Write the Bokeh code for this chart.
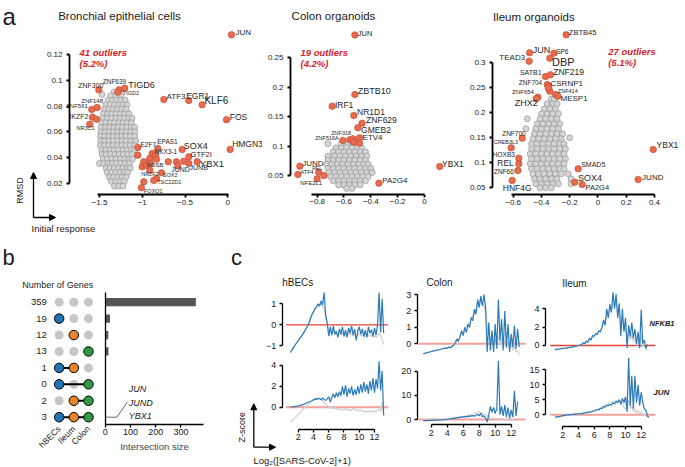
import numpy as np
from bokeh.plotting import figure
from bokeh.layouts import row, column
from bokeh.models import Range1d, FixedTicker, Label, Arrow, NormalHead, ColumnDataSource
from bokeh.core.properties import value
from bokeh.embed import file_html
from bokeh.resources import INLINE

FONT = "Liberation Sans"
nan = float("nan")

# ---------------- Panel a data (initial response, RMSD) ----------------
HBEC_OUT = [
    ("JUN", 0.044, 0.1353), ("ZNF300", -1.508, 0.0926), ("ZNF639", -1.270, 0.0926),
    ("TIGD6", -1.204, 0.0939), ("TIGD2", -1.286, 0.0908), ("ZNF148", -1.527, 0.0789),
    ("ZNF561", -1.590, 0.0774), ("IKZF2", -1.582, 0.0714), ("", -1.535, 0.0698),
    ("NR3C1", -1.613, 0.0660), ("ATF3", -0.748, 0.0851), ("EGR1", -0.456, 0.0843),
    ("KLF6", -0.300, 0.0810), ("FOS", -0.015, 0.0694), ("HMGN3", 0.028, 0.0464),
    ("E2F7", -1.052, 0.0479), ("EPAS1", -0.818, 0.0471), ("SOX4", -0.533, 0.0464),
    ("NKX3-1", -0.884, 0.0433), ("GTF2I", -0.455, 0.0407), ("YBX1", -0.357, 0.0368),
    ("JUNB", -0.455, 0.0355), ("JUND", -0.600, 0.0368), ("FOSB", -0.982, 0.0347),
    ("NR2F2", -0.912, 0.0303), ("SOX2", -0.775, 0.0283), ("TSC22D1", -0.833, 0.0239),
    ("FOXO1", -1.010, 0.0167),
    ("", -1.052, 0.0419), ("", -0.845, 0.0419), ("", -0.912, 0.0394), ("", -0.833, 0.0388),
    ("", -0.514, 0.0373), ("", -0.696, 0.0368), ("", -0.584, 0.0337), ("", -0.982, 0.0368),
    ("", -1.001, 0.0329), ("", -0.950, 0.0342), ("", -0.904, 0.0355), ("", -0.865, 0.0223),
    ("", -0.982, 0.0213),
]
HBEC_GREY_ROWS = [
    (0.0910, [-1.33, -1.27]),
    (0.0890, [-1.47]),
    (0.0880, [-1.37, -1.31, -1.25]),
    (0.0845, [-1.40, -1.35, -1.30, -1.25, -1.20]),
    (0.0810, [-1.425, -1.375, -1.325, -1.275, -1.225, -1.18]),
    (0.0775, [-1.44, -1.39, -1.34, -1.29, -1.24, -1.19]),
    (0.0740, [-1.455, -1.405, -1.355, -1.305, -1.255, -1.205, -1.155]),
    (0.0705, [-1.46, -1.41, -1.36, -1.31, -1.26, -1.21, -1.16, -1.12]),
    (0.0670, [-1.475, -1.425, -1.375, -1.325, -1.275, -1.225, -1.175, -1.125]),
    (0.0635, [-1.48, -1.43, -1.38, -1.33, -1.28, -1.23, -1.18, -1.13, -1.09]),
    (0.0600, [-1.485, -1.435, -1.385, -1.335, -1.285, -1.235, -1.185, -1.135, -1.085]),
    (0.0565, [-1.49, -1.44, -1.39, -1.34, -1.29, -1.24, -1.19, -1.14, -1.09]),
    (0.0530, [-1.485, -1.435, -1.385, -1.335, -1.285, -1.235, -1.185, -1.135, -1.075]),
    (0.0495, [-1.49, -1.44, -1.39, -1.34, -1.29, -1.24, -1.19, -1.14, -1.09]),
    (0.0460, [-1.475, -1.425, -1.375, -1.325, -1.275, -1.225, -1.175, -1.125, -1.09]),
    (0.0425, [-1.47, -1.42, -1.37, -1.32, -1.27, -1.22, -1.17, -1.12]),
    (0.0390, [-1.455, -1.405, -1.355, -1.305, -1.255, -1.205, -1.155, -1.115]),
    (0.0355, [-1.50, -1.45, -1.40, -1.35, -1.30, -1.25, -1.20, -1.15]),
    (0.0320, [-1.425, -1.375, -1.325, -1.275, -1.225, -1.175, -1.14]),
    (0.0285, [-1.41, -1.36, -1.31, -1.26, -1.21, -1.17]),
    (0.0250, [-1.385, -1.335, -1.285, -1.235, -1.19]),
    (0.0215, [-1.36, -1.31, -1.26, -1.21]),
    (0.0180, [-1.325, -1.275, -1.225]),
]

COLON_OUT = [
    ("JUN", -0.519, 0.289), ("ZBTB10", -0.519, 0.1877), ("IRF1", -0.688, 0.1678),
    ("NR1D1", -0.527, 0.152), ("ZNF629", -0.465, 0.139), ("GMEB2", -0.497, 0.131),
    ("ETV4", -0.484, 0.114), ("ZNF318", -0.557, 0.1106), ("ZNF516A", -0.609, 0.1095),
    ("", -0.534, 0.1123), ("", -0.527, 0.1066), ("", -0.484, 0.105),
    ("JUND", -0.929, 0.0659), ("ATF4", -0.944, 0.0517), ("REL", -0.788, 0.0557),
    ("NFE2L1", -0.800, 0.0443), ("", -0.750, 0.050), ("PA2G4", -0.340, 0.037),
    ("YBX1", 0.114, 0.0653),
]
COLON_GREY_ROWS = [
    (0.104, [-0.72, -0.62, -0.57, -0.53]),
    (0.097, [-0.66, -0.62, -0.58, -0.54, -0.50, -0.47]),
    (0.090, [-0.68, -0.64, -0.60, -0.56, -0.52, -0.48, -0.44]),
    (0.083, [-0.72, -0.67, -0.63, -0.59, -0.55, -0.51, -0.47, -0.43]),
    (0.076, [-0.72, -0.68, -0.64, -0.60, -0.56, -0.52, -0.48, -0.44]),
    (0.069, [-0.73, -0.69, -0.65, -0.61, -0.57, -0.53, -0.49, -0.45, -0.42]),
    (0.062, [-0.72, -0.68, -0.64, -0.60, -0.56, -0.52, -0.48, -0.44, -0.40]),
    (0.055, [-0.71, -0.67, -0.63, -0.59, -0.55, -0.51, -0.47, -0.43, -0.39]),
    (0.048, [-0.70, -0.66, -0.62, -0.58, -0.54, -0.50, -0.46, -0.42]),
    (0.041, [-0.68, -0.64, -0.60, -0.56, -0.52, -0.48, -0.44]),
    (0.034, [-0.64, -0.60, -0.56, -0.52, -0.48]),
    (0.028, [-0.58, -0.54]),
]

ILEUM_OUT = [
    ("ZBTB45", -0.225, 0.356), ("JUN", -0.484, 0.320), ("SP6", -0.312, 0.3193),
    ("TEAD3", -0.487, 0.3033), ("DBP", -0.341, 0.3093), ("SATB1", -0.371, 0.2727),
    ("ZNF219", -0.336, 0.276), ("ZNF704", -0.359, 0.2567), ("CSRNP1", -0.348, 0.2527),
    ("", -0.348, 0.248), ("", -0.341, 0.2433), ("", -0.352, 0.250),
    ("ZNF654", -0.425, 0.2313), ("ZHX2", -0.437, 0.228), ("ZNF414", -0.300, 0.2367),
    ("MESP1", -0.284, 0.2333), ("ZNF700", -0.536, 0.1493), ("CREB3L3", -0.614, 0.130),
    ("HOXB3", -0.560, 0.1093), ("REL", -0.560, 0.098), ("ZNF66", -0.567, 0.0847),
    ("HNF4G", -0.607, 0.0647), ("SMAD5", -0.140, 0.088), ("SOX4", -0.164, 0.0613),
    ("PA2G4", -0.112, 0.0567), ("YBX1", 0.391, 0.1267), ("JUND", 0.284, 0.0667),
]
ILEUM_GREY_ROWS = [
    (0.228, [-0.33, -0.31]),
    (0.218, [-0.36, -0.32, -0.29]),
    (0.208, [-0.38, -0.34, -0.30]),
    (0.198, [-0.40, -0.36, -0.32, -0.28]),
    (0.188, [-0.50, -0.41, -0.37, -0.33, -0.29]),
    (0.178, [-0.43, -0.39, -0.35, -0.31, -0.27]),
    (0.168, [-0.51, -0.44, -0.40, -0.36, -0.32, -0.28]),
    (0.158, [-0.45, -0.41, -0.37, -0.33, -0.29, -0.25]),
    (0.150, [-0.20]),
    (0.148, [-0.46, -0.42, -0.38, -0.34, -0.30, -0.26]),
    (0.138, [-0.47, -0.43, -0.39, -0.35, -0.31, -0.27, -0.24]),
    (0.128, [-0.47, -0.43, -0.39, -0.35, -0.31, -0.27, -0.23]),
    (0.118, [-0.48, -0.44, -0.40, -0.36, -0.32, -0.28, -0.24]),
    (0.108, [-0.47, -0.43, -0.39, -0.35, -0.31, -0.27, -0.23]),
    (0.098, [-0.48, -0.44, -0.40, -0.36, -0.32, -0.28, -0.24]),
    (0.088, [-0.47, -0.43, -0.39, -0.35, -0.31, -0.27, -0.24]),
    (0.078, [-0.46, -0.42, -0.38, -0.34, -0.30, -0.26, -0.21]),
    (0.068, [-0.45, -0.41, -0.37, -0.33, -0.29, -0.19]),
    (0.058, [-0.44, -0.40, -0.36, -0.32, -0.28, -0.19]),
    (0.050, [-0.41, -0.37, -0.33]),
]
OUTLIER_PCT = ["5.2%", "4.2%", "5.1%"]
PANEL_A_TITLES = ["Bronchial epithelial cells", "Colon organoids", "Ileum organoids"]

# ---------------- Panel b data ----------------
SETS = ["hBECs", "Ileum", "Colon"]
MEMBERSHIP = [[0, 0, 0], [1, 0, 0], [0, 1, 0], [0, 0, 1],
              [1, 1, 0], [1, 0, 1], [0, 1, 1], [1, 1, 1]]
COUNTS = [359, 19, 12, 13, 1, 0, 2, 3]
SHARED_GENES = ["JUN", "JUND", "YBX1"]

# ---------------- Panel c data ----------------
LOGC = [1.0, 1.2, 1.4, 1.6, 1.8, 2.0, 2.2, 2.4, 2.6, 2.8,
        3.0, 3.2, 3.4, 3.6, 3.8, 4.0, 4.2, 4.4, 4.6, 4.8,
        5.0, 5.2, 5.4, 5.6, 5.8, 6.0, 6.2, 6.4, 6.6, 6.8,
        7.0, 7.2, 7.4, 7.6, 7.8, 8.0, 8.2, 8.4, 8.6, 8.8,
        9.0, 9.2, 9.4, 9.6, 9.8, 10.0, 10.2, 10.4, 10.6, 10.8,
        11.0, 11.2, 11.4, 11.6, 11.8, 12.0, 12.2, 12.4, 12.6, 12.8,
        13.0, 13.2]
HBEC_NFKB1 = [-1.33, -1.20, -1.08, -0.97, -0.86, -0.76, -0.65, -0.55, -0.45, -0.33,
              -0.20, -0.08, 0.08, 0.30, 0.50, 0.62, 0.78, 0.85, 1.00, 0.90,
              1.15, 0.95, 1.55, 0.45, 0.10, -0.55, -0.10, -0.50, -0.05, -0.45,
              -0.30, -0.60, -0.20, -0.45, -0.10, -0.55, -0.25, -0.60, -0.15, -0.40,
              -0.05, -0.50, -0.20, -0.75, -0.30, -0.10, -0.45, -0.20, -0.55, -0.25,
              -0.60, -0.10, -0.40, -0.25, -0.55, -0.15, -0.50, 0.00, 1.55, -0.35,
              1.25, -0.40]
HBEC_NFKB1_CTRL = [-1.33, -1.20, -1.08, -0.97, -0.86, -0.76, -0.65, -0.55, -0.45, -0.33,
                   -0.22, -0.10, 0.05, 0.25, 0.45, 0.60, 0.72, 0.85, 0.90, 0.95,
                   1.00, 0.90, 0.80, 0.40, 0.00, -0.30, -0.35, -0.40, -0.30, -0.45,
                   -0.40, -0.50, -0.35, -0.50, -0.40, -0.55, -0.45, -0.50, -0.35, -0.50,
                   -0.40, -0.55, -0.45, -0.60, -0.50, -0.40, -0.55, -0.45, -0.60, -0.50,
                   -0.55, -0.45, -0.55, -0.50, -0.60, -0.50, -0.60, -0.55, -0.40, -0.50,
                   -0.70, -0.95]
HBEC_JUN = [0.00, 0.02, 0.05, 0.08, 0.10, 0.12, 0.15, 0.20, 0.25, 0.30,
            0.38, 0.45, 0.50, 0.55, 0.62, 0.70, 0.75, 0.80, 0.78, 0.85,
            0.70, 0.90, 0.75, 0.65, 0.80, 1.00, 0.50, 0.90, 1.30, 0.90,
            1.40, 1.00, 1.50, 1.10, 2.00, 1.20, 2.10, 1.00, 1.80, 1.30,
            2.00, 1.10, 1.70, 1.20, 2.00, 1.30, 2.20, 1.40, 2.40, 1.50,
            2.20, 1.30, 2.50, 1.60, 2.80, 1.40, 2.70, 1.80, 4.40, 1.60,
            3.50, -0.80]
HBEC_JUN_CTRL = [-1.45, -1.30, -1.15, -1.00, -0.85, -0.70, -0.55, -0.40, -0.25, -0.10,
                 0.05, 0.20, 0.35, 0.50, 0.60, 0.72, 0.80, 0.88, 0.90, 0.85,
                 0.75, 0.60, 0.45, 0.30, 0.15, 0.00, -0.10, 0.05, -0.15, -0.05,
                 -0.20, -0.10, -0.25, -0.15, -0.30, -0.20, -0.10, -0.30, -0.20, -0.35,
                 -0.25, -0.10, -0.30, -0.20, -0.40, -0.30, -0.20, -0.45, -0.30, -0.50,
                 -0.35, -0.45, -0.30, -0.50, -0.40, -0.30, -0.50, -0.30, -0.20, -0.40,
                 0.50, -0.80]
COLON_NFKB1 = [-0.60, -0.58, -0.55, -0.52, -0.50, -0.47, -0.45, -0.42, -0.40, -0.38,
               -0.35, -0.33, -0.30, -0.28, -0.25, -0.28, -0.20, -0.25, -0.15, -0.10,
               0.05, 0.30, 0.15, 0.45, 0.80, 0.50, 1.00, 0.70, 1.20, 1.00,
               1.60, 1.40, 2.10, 1.80, 2.70, 2.20, 2.90, 2.30, 3.00, 2.20,
               -0.50, 1.30, -0.40, 0.80, -0.50, 1.20, -0.30, 2.70, 0.20, 1.50,
               -0.40, 2.00, -0.20, 1.20, -0.50, 0.60, -0.20, 1.10, -0.30, 0.90,
               -0.20, nan]
COLON_NFKB1_CTRL = [-0.60, -0.58, -0.56, -0.53, -0.50, -0.48, -0.46, -0.43, -0.41, -0.39,
                    -0.36, -0.34, -0.31, -0.29, -0.27, -0.25, -0.22, -0.20, -0.15, -0.10,
                    0.00, 0.15, 0.25, 0.40, 0.60, 0.70, 0.90, 1.00, 1.20, 1.30,
                    1.50, 1.70, 1.90, 2.10, 2.40, 2.50, 2.70, 2.50, 2.30, 1.90,
                    1.00, 0.60, 0.20, 0.40, 0.00, 0.30, -0.10, 0.50, 0.00, 0.30,
                    -0.20, 0.20, -0.30, 0.10, -0.30, 0.00, -0.40, -0.10, -0.50, -0.40,
                    -0.70, nan]
COLON_JUN = [-0.5, -0.5, -0.45, -0.45, -0.4, -0.4, -0.35, -0.3, -0.3, -0.25,
             -0.2, -0.2, -0.15, -0.1, 0.0, 0.1, 0.2, 0.3, 0.4, 0.5,
             0.6, 0.7, 0.8, 0.9, 1.0, 1.1, 1.2, 1.1, 1.4, 1.3,
             1.5, 1.6, 1.4, 1.8, 2.2, 1.5, 2.6, 1.2, 1.5, 0.5,
             -1.0, 2.0, 5.5, 3.0, 5.0, 2.5, 4.5, 24.5, 2.0, 5.5,
             1.5, 6.0, 1.0, 5.0, 0.5, 4.0, 1.0, 12.0, 1.5, 7.5,
             nan, nan]
COLON_JUN_CTRL = [-0.3, -0.3, -0.3, -0.25, -0.25, -0.2, -0.2, -0.2, -0.15, -0.1,
                  -0.1, 0.0, 0.0, 0.1, 0.2, 0.3, 0.4, 0.5, 0.6, 0.7,
                  0.8, 0.9, 1.0, 1.1, 1.2, 1.3, 1.4, 1.5, 1.6, 1.8,
                  2.0, 2.2, 2.4, 2.8, 3.0, 3.2, 3.0, 2.6, 2.2, 2.0,
                  1.5, 1.0, 0.5, 0.3, 0.5, 0.2, 0.4, 0.1, 0.3, 0.0,
                  0.2, -0.1, 0.1, -0.2, 0.0, -0.3, -0.1, -0.4, -0.3, -0.5,
                  nan, nan]
ILEUM_NFKB1 = [-0.45, -0.42, -0.40, -0.38, -0.35, -0.32, -0.30, -0.28, -0.25, -0.22,
               -0.20, -0.15, -0.12, -0.10, -0.05, 0.00, 0.05, 0.10, 0.30, 0.20,
               0.50, 0.35, 0.80, 0.60, 1.10, 1.00, 1.30, 1.20, 1.60, 1.50,
               2.00, 2.80, 2.20, 4.00, 3.00, 4.50, 3.60, 5.80, 4.00, 5.60,
               3.00, 4.60, 1.00, 4.00, 1.50, 3.00, -0.30, 2.20, 1.00, 2.50,
               0.80, 1.80, 0.20, 1.50, -0.30, 3.90, 0.20, 0.60, -0.30, 0.10,
               nan, nan]
ILEUM_NFKB1_CTRL = [-0.45, -0.43, -0.41, -0.39, -0.36, -0.33, -0.31, -0.29, -0.26, -0.23,
                    -0.20, -0.17, -0.14, -0.10, -0.06, -0.02, 0.05, 0.10, 0.20, 0.25,
                    0.40, 0.45, 0.60, 0.70, 0.90, 1.00, 1.20, 1.30, 1.50, 1.70,
                    2.00, 2.40, 2.60, 3.20, 3.40, 3.80, 4.00, 4.50, 4.40, 4.60,
                    3.80, 3.60, 2.40, 2.80, 1.60, 2.00, 0.80, 1.40, 0.60, 1.20,
                    0.40, 0.80, 0.00, 0.60, -0.20, 1.20, -0.20, 0.00, -0.40, -0.50,
                    nan, nan]
ILEUM_JUN = [-0.8, -0.7, -0.6, -0.5, -0.4, -0.3, -0.2, -0.1, -0.05, 0.0,
             0.05, 0.1, 0.15, 0.2, 0.25, 0.3, 0.35, 0.4, 0.5, 0.6,
             0.7, 0.8, 0.9, 1.0, 1.1, 1.3, 1.5, 1.7, 1.6, 2.2,
             2.0, 2.8, 2.5, 3.2, 3.0, 3.5, 3.2, 4.0, 3.6, 4.5,
             4.0, 5.0, 3.5, 5.5, 4.0, 6.0, 1.0, 19.0, 3.0, 13.0,
             2.0, 13.0, 4.0, 10.0, 3.0, 7.5, 4.0, 2.0, 1.5, -0.5,
             -0.8, nan]
ILEUM_JUN_CTRL = [-1.0, -0.9, -0.8, -0.7, -0.6, -0.5, -0.4, -0.3, -0.2, -0.1,
                  0.0, 0.05, 0.1, 0.15, 0.2, 0.3, 0.4, 0.5, 0.6, 0.7,
                  0.8, 0.9, 1.0, 1.1, 1.2, 1.4, 1.6, 1.8, 2.0, 2.3,
                  2.6, 2.9, 3.2, 3.5, 3.8, 4.0, 4.2, 4.5, 4.3, 4.8,
                  4.6, 5.0, 4.2, 3.5, 2.5, 2.0, 1.5, 5.0, 2.0, 3.0,
                  1.0, 2.0, 0.5, 1.5, 0.3, 1.0, 0.2, 0.0, -0.2, -0.5,
                  -0.6, nan]

# ---------------- styles (label placement: dx, dy px, align, font px) ----------------
HBEC_LBL = {
    "JUN": (4, -2, "left", 8), "ZNF300": (-8, -4, "center", 7), "ZNF639": (-4.7, -8.3, "center", 6.5),
    "TIGD6": (3.4, -3.4, "left", 9), "TIGD2": (5, 1, "left", 5.5), "ZNF148": (-5, -7, "center", 6),
    "ZNF561": (-4, -3, "right", 6), "IKZF2": (-4, -0.7, "right", 7), "NR3C1": (-4.3, 4, "center", 5.5),
    "ATF3": (2.7, -3, "left", 8), "EGR1": (-2.6, -5, "left", 8.5), "KLF6": (2.3, -4.3, "left", 10),
    "FOS": (3.3, -2.6, "left", 8.5), "HMGN3": (2, -5, "left", 8.5), "E2F7": (2.7, -2.7, "left", 6.5),
    "EPAS1": (-0.6, -7.3, "left", 6.5), "SOX4": (1.6, -3.3, "left", 9), "NKX3-1": (2.3, -2.3, "left", 6.5),
    "GTF2I": (1.7, -2.3, "left", 7.5), "YBX1": (2.6, 1.4, "left", 9.5), "JUNB": (0.7, 4.3, "left", 7),
    "JUND": (-5.3, 7.7, "left", 7), "FOSB": (3.4, 0.7, "left", 6), "NR2F2": (-8.6, 3.6, "left", 5.5),
    "SOX2": (1.3, 2.7, "left", 5.5), "TSC22D1": (0.7, 3.7, "left", 5.5), "FOXO1": (2.6, 3.4, "left", 5.5),
}
COLON_LBL = {
    "JUN": (3, -1, "left", 7.5), "ZBTB10": (3, -3, "left", 9), "IRF1": (2.7, -1.3, "left", 8.5),
    "NR1D1": (3.3, -3.3, "left", 8.5), "ZNF629": (4, -2.7, "left", 8.5), "GMEB2": (3.3, 2, "left", 8.5),
    "ETV4": (3, -0.7, "left", 8), "ZNF318": (-8.6, -6.7, "center", 5.5), "ZNF516A": (-4, -2.7, "right", 5.5),
    "JUND": (2.3, -3, "left", 8), "ATF4": (2.7, -2.3, "left", 5.5), "REL": (-1.7, -4, "center", 5),
    "NFE2L1": (-6, 4.3, "center", 6), "PA2G4": (3.3, -2.7, "left", 8), "YBX1": (2.3, -2.7, "left", 8.5),
}
ILEUM_LBL = {
    "ZBTB45": (2.7, -2, "left", 7.5), "JUN": (3.3, -3.3, "left", 9), "SP6": (2.3, -2, "left", 6.5),
    "TEAD3": (-4, -3.3, "right", 8), "DBP": (2.3, 4, "left", 11), "SATB1": (-4, -4.3, "right", 7),
    "ZNF219": (2.7, -3, "left", 8.5), "ZNF704": (-5, -2.3, "right", 6.5), "CSRNP1": (1.7, -2.7, "left", 8),
    "ZNF654": (-4, -5, "right", 6), "ZHX2": (-10, 4.3, "center", 9), "ZNF414": (2.3, -3.3, "left", 5.5),
    "MESP1": (2.7, 2, "left", 8), "ZNF700": (-8.3, -4.3, "center", 6.5), "CREB3L3": (-5.3, -5.7, "center", 5.5),
    "HOXB3": (-4, -3.7, "right", 6.5), "REL": (-5, -1, "right", 8.5), "ZNF66": (-4, 0.7, "right", 6.5),
    "HNF4G": (5, 7.3, "center", 8.5), "SMAD5": (3, -4.3, "left", 7), "SOX4": (3.3, -4, "left", 9),
    "PA2G4": (3.3, 3.3, "left", 7.5), "YBX1": (3.3, -4, "left", 8.5), "JUND": (4, -2.3, "left", 8),
}
SET_COLORS = ["#2474b5", "#e8852b", "#2f9a48"]
RED = "#d2232a"
BLUE = "#2b7bba"


def make_fig(w, h, xr, yr, xaxis=True):
    p = figure(width=w, height=h, x_range=Range1d(*xr), y_range=Range1d(*yr), min_border=0,
               x_axis_location="below" if xaxis else None, title=None,
               output_backend="svg", toolbar_location=None)
    p.outline_line_color = None
    p.grid.grid_line_color = None
    p.background_fill_color = "white"
    p.border_fill_color = "white"
    return p


def style_axis(ax, fs, lw, fixed, ticks=None, bounds=None, standoff=2, tick_out=3):
    ax.fixed_location = fixed
    ax.axis_line_color = "black"
    ax.axis_line_width = lw
    ax.major_tick_line_color = "black"
    ax.major_tick_line_width = lw
    ax.major_tick_out = tick_out
    ax.major_tick_in = 0
    ax.minor_tick_line_color = None
    ax.major_label_text_font = FONT
    ax.major_label_text_font_size = f"{fs}px"
    ax.major_label_text_color = "#1a1a1a"
    ax.major_label_standoff = standoff
    if ticks is not None:
        ax.ticker = FixedTicker(ticks=ticks)
    if bounds is not None:
        ax.bounds = bounds


def label(p, x, y, text, size, align="left", baseline="middle", style="normal",
          color="#1a1a1a", angle=0.0):
    p.add_layout(Label(x=x, y=y, text=text, text_font=FONT, text_font_size=f"{size}px",
                       text_align=align, text_baseline=baseline, text_font_style=style,
                       text_color=color, angle=angle))


def arrow(p, x0, y0, x1, y1):
    p.add_layout(Arrow(end=NormalHead(size=6, fill_color="black", line_color="black", line_width=1),
                       x_start=x0, y_start=y0, x_end=x1, y_end=y1,
                       line_color="black", line_width=1.3))


def scatter_panel(p, grey_rows, outliers, lbl):
    gx = [xv for yv, xs in grey_rows for xv in xs]
    gy = [yv for yv, xs in grey_rows for xv in xs]
    p.scatter(gx, gy, size=6, fill_color="#d4d4d4", line_color="#8c8c8c", line_width=0.6)
    p.scatter([o[1] for o in outliers], [o[2] for o in outliers], size=6.5,
              fill_color="#e96a4c", line_color="#b84a32", line_width=0.6)
    rows_ = [(n, x, y) + lbl[n] for n, x, y in outliers if n in lbl]
    src = ColumnDataSource(dict(
        x=[r[1] for r in rows_], y=[r[2] for r in rows_], t=[r[0] for r in rows_],
        dx=[r[3] for r in rows_], dy=[r[4] for r in rows_], al=[r[5] for r in rows_],
        fs=[f"{r[6]}px" for r in rows_]))
    p.text(x="x", y="y", text="t", x_offset="dx", y_offset="dy", text_align="al",
           text_baseline="middle", text_font_size="fs", text_font=value(FONT),
           text_color="#262626", source=src)


# ================= Panel a =================
A1 = make_fig(262, 242, (-2.6579, 0.4064), (-0.025736, 0.16186))
style_axis(A1.xaxis[0], 8, 1.8, 0.011473, [-1.5, -1.0, -0.5, 0.0], (-1.523, 0.009))
style_axis(A1.yaxis[0], 8, 1.8, -1.8509, [0.02, 0.04, 0.06, 0.08, 0.10, 0.12], (0.02, 0.12), standoff=4)
scatter_panel(A1, HBEC_GREY_ROWS, HBEC_OUT, HBEC_LBL)
label(A1, -2.6345, 0.14946, "a", 24, baseline="alphabetic")
label(A1, -1.2661, 0.14946, PANEL_A_TITLES[0], 11.5, align="center")
label(A1, -1.7339, 0.12178, f"{len(HBEC_OUT)} outliers", 9.5, style="bold italic", color=RED)
label(A1, -1.7339, 0.11326, f"({OUTLIER_PCT[0]})", 9.5, style="bold italic", color=RED)
arrow(A1, -2.2719, -0.006357, -2.2719, 0.028527)
arrow(A1, -2.2719, -0.006357, -2.01462, -0.006357)
label(A1, -2.424, 0.014574, "RMSD", 9, align="center", angle=np.pi / 2)
label(A1, -2.2953, -0.014884, "Initial response", 9.5)

A2 = make_fig(204, 242, (-1.20746, 0.31308), (-0.06391, 0.34745))
style_axis(A2.xaxis[0], 8, 1.8, 0.01769, [-0.8, -0.6, -0.4, -0.2, 0.0], (-0.84, 0.0))
style_axis(A2.yaxis[0], 8, 1.8, -0.99878, [0.05, 0.10, 0.15, 0.20, 0.25], (0.05, 0.25), standoff=4)
scatter_panel(A2, COLON_GREY_ROWS, COLON_OUT, COLON_LBL)
label(A2, -0.6783, 0.32026, PANEL_A_TITLES[1], 11.5, align="center")
label(A2, -0.9242, 0.25957, f"{len(COLON_OUT)} outliers", 9.5, style="bold italic", color=RED)
label(A2, -0.9242, 0.23985, f"({OUTLIER_PCT[1]})", 9.5, style="bold italic", color=RED)

A3 = make_fig(218, 242, (-0.93022, 0.61218), (-0.05934, 0.42466))
style_axis(A3.xaxis[0], 8, 1.8, 0.03666, [-0.6, -0.4, -0.2, 0.0, 0.2, 0.4], (-0.614, 0.4))
style_axis(A3.yaxis[0], 8, 1.8, -0.74625, [0.05, 0.10, 0.15, 0.20, 0.25, 0.30], (0.05, 0.30), standoff=4)
scatter_panel(A3, ILEUM_GREY_ROWS, ILEUM_OUT, ILEUM_LBL)
label(A3, -0.454, 0.39266, PANEL_A_TITLES[2], 11.5, align="center")
label(A3, 0.0724, 0.32266, f"{len(ILEUM_OUT)} outliers", 9.5, style="bold italic", color=RED)
label(A3, 0.0724, 0.30006, f"({OUTLIER_PCT[2]})", 9.5, style="bold italic", color=RED)

# ================= Panel b =================
n_rows = len(COUNTS)
row_y = [n_rows - 1 - i for i in range(n_rows)]
B_YR = (-3.0006, 10.633)

Bm = make_fig(100, 224, (-4.0, 2.818), B_YR)
gx, gy, cx, cy, cc, sx0, sx1, sy = [], [], [], [], [], [], [], []
for i, mem in enumerate(MEMBERSHIP):
    cols_in = [j for j, m in enumerate(mem) if m]
    for j, m in enumerate(mem):
        if m:
            cx.append(j); cy.append(row_y[i]); cc.append(SET_COLORS[j])
        else:
            gx.append(j); gy.append(row_y[i])
    if len(cols_in) > 1:
        sx0.append(min(cols_in)); sx1.append(max(cols_in)); sy.append(row_y[i])
Bm.scatter(gx, gy, size=9, fill_color="#c6c6c6", line_color=None)
Bm.segment(x0=sx0, y0=sy, x1=sx1, y1=sy, line_color="black", line_width=2)
Bm.scatter(cx, cy, size=9.5, fill_color=cc, line_color="black", line_width=1)
style_axis(Bm.xaxis[0], 8.5, 1, -0.499, list(range(len(SETS))), standoff=2, tick_out=0)
Bm.xaxis[0].major_label_overrides = {j: s for j, s in enumerate(SETS)}
Bm.xaxis[0].major_label_orientation = np.pi / 4
Bm.xaxis[0].axis_line_color = None
Bm.xaxis[0].major_tick_line_color = None
style_axis(Bm.yaxis[0], 9.5, 1, -0.4956, row_y, standoff=5, tick_out=0)
Bm.yaxis[0].major_label_overrides = {row_y[i]: str(c) for i, c in enumerate(COUNTS)}
Bm.yaxis[0].axis_line_color = None
Bm.yaxis[0].major_tick_line_color = None
label(Bm, -2.519, 8.064, "Number of Genes", 9)
label(Bm, -3.864, 9.72, "b", 22, baseline="alphabetic")

Bb = make_fig(130, 224, (-18.6, 496.2), B_YR)
Bb.hbar(y=row_y, right=COUNTS, left=0, height=0.5, fill_color="#555555", line_color=None)
style_axis(Bb.xaxis[0], 9, 1.3, -0.444, [0, 100, 200, 300], (0, 390))
Bb.xaxis[0].axis_label = "Intersection size"
Bb.xaxis[0].axis_label_text_font = FONT
Bb.xaxis[0].axis_label_text_font_size = "9.5px"
Bb.xaxis[0].axis_label_text_font_style = "normal"
Bb.xaxis[0].axis_label_standoff = 2
style_axis(Bb.yaxis[0], 9, 1.3, 0, [], (-0.444, 7.56), standoff=0, tick_out=0)
Bb.yaxis[0].major_tick_line_color = None
Bb.yaxis[0].major_label_text_font_size = "0px"
i_all = MEMBERSHIP.index([1, 1, 1])
y_all = row_y[i_all]
c_all = COUNTS[i_all]
Bb.line([c_all, c_all + 43, c_all + 85], [y_all, y_all, y_all + 0.92], line_color="#444444", line_width=0.8)
Bb.text(x=[c_all + 90] * 3, y=[y_all + 1.686, y_all + 0.834, y_all + 0.103], text=SHARED_GENES,
        text_font=value(FONT), text_font_size="9px", text_font_style="italic",
        text_baseline="middle", text_color="#1a1a1a")

# ================= Panel c =================
def line_panel(p, blue, ctrl, red_col, red_w):
    p.line([LOGC[0] - 0.6, LOGC[-1] + 0.6], [0, 0], line_color=red_col, line_width=red_w)
    p.line(LOGC, np.array(ctrl, dtype=float), line_color="#cfcfcf", line_width=1.2)
    p.line(LOGC, np.array(blue, dtype=float), line_color=BLUE, line_width=1.2)

C1t = make_fig(162, 115, (-6.873, 14.359), (-1.568, 3.947), xaxis=False)
C1b = make_fig(162, 109, (-6.873, 14.359), (-5.686, 4.765))
C2t = make_fig(135, 115, (-2.8375, 14.0375), (-0.8338, 6.1656), xaxis=False)
C2b = make_fig(135, 109, (-2.8375, 14.0375), (-19.583, 25.833))
C3t = make_fig(157, 115, (-2.5026, 17.523), (-1.308, 11.226), xaxis=False)
C3b = make_fig(157, 109, (-2.5026, 17.523), (-17.233, 19.1))

line_panel(C1t, HBEC_NFKB1, HBEC_NFKB1_CTRL, "#e8413a", 1.3)
line_panel(C1b, HBEC_JUN, HBEC_JUN_CTRL, "#f3a19b", 2)
line_panel(C2t, COLON_NFKB1, COLON_NFKB1_CTRL, "#f3a19b", 2)
line_panel(C2b, COLON_JUN, COLON_JUN_CTRL, "#f3a19b", 2)
line_panel(C3t, ILEUM_NFKB1, ILEUM_NFKB1_CTRL, "#e8413a", 1.3)
line_panel(C3b, ILEUM_JUN, ILEUM_JUN_CTRL, "#f3a19b", 2)

style_axis(C1t.yaxis[0], 9, 1.3, -0.097, [-1, 0, 1], (-1, 1), standoff=3)
style_axis(C1b.yaxis[0], 9, 1.3, -0.097, [0, 2, 4], (0, 4), standoff=3)
style_axis(C2t.yaxis[0], 9, 1.3, 0.25, [0, 1, 2, 3], (0, 3), standoff=3)
style_axis(C2b.yaxis[0], 9, 1.3, 0.25, [0, 10, 20], (0, 20), standoff=3)
style_axis(C3t.yaxis[0], 9, 1.3, -0.2066, [0, 2, 4], (0, 4), standoff=3)
style_axis(C3b.yaxis[0], 9, 1.3, -0.2066, [0, 5, 10, 15], (0, 15), standoff=3)
style_axis(C1b.xaxis[0], 9, 1.3, -2.138, [2, 4, 6, 8, 10, 12], (2, 12))
style_axis(C2b.xaxis[0], 9, 1.3, -2.208, [2, 4, 6, 8, 10, 12], (2, 12))
style_axis(C3b.xaxis[0], 9, 1.3, -3.9, [2, 4, 6, 8, 10, 12], (2, 12))

label(C1t, -6.80, 3.228, "c", 22, baseline="alphabetic")
label(C1t, -0.097, 2.029, "hBECs", 10)
label(C2t, 1.4125, 3.731, "Colon", 10)
label(C3t, 1.923, 6.79, "Ileum", 10)
label(C3t, 13.059, 2.365, "NFKB1", 7.5, style="bold italic")
label(C3b, 13.53, 7.53, "JUN", 8, style="bold italic")
arrow(C1b, -3.819, -3.835, -3.819, 0.326)
arrow(C1b, -3.819, -3.835, -0.975, -3.835)
label(C1b, -5.339, -1.918, "Z-score", 9, align="center", angle=np.pi / 2)
label(C1b, -3.858, -5.11, "Log\u2082([SARS-CoV-2]+1)", 9.5)

top = row(A1, A2, A3)
bottom = row(Bm, Bb, column(C1t, C1b), column(C2t, C2b), column(C3t, C3b))
layout = column(top, bottom)

open("out.html", "w").write(file_html(layout, INLINE))
